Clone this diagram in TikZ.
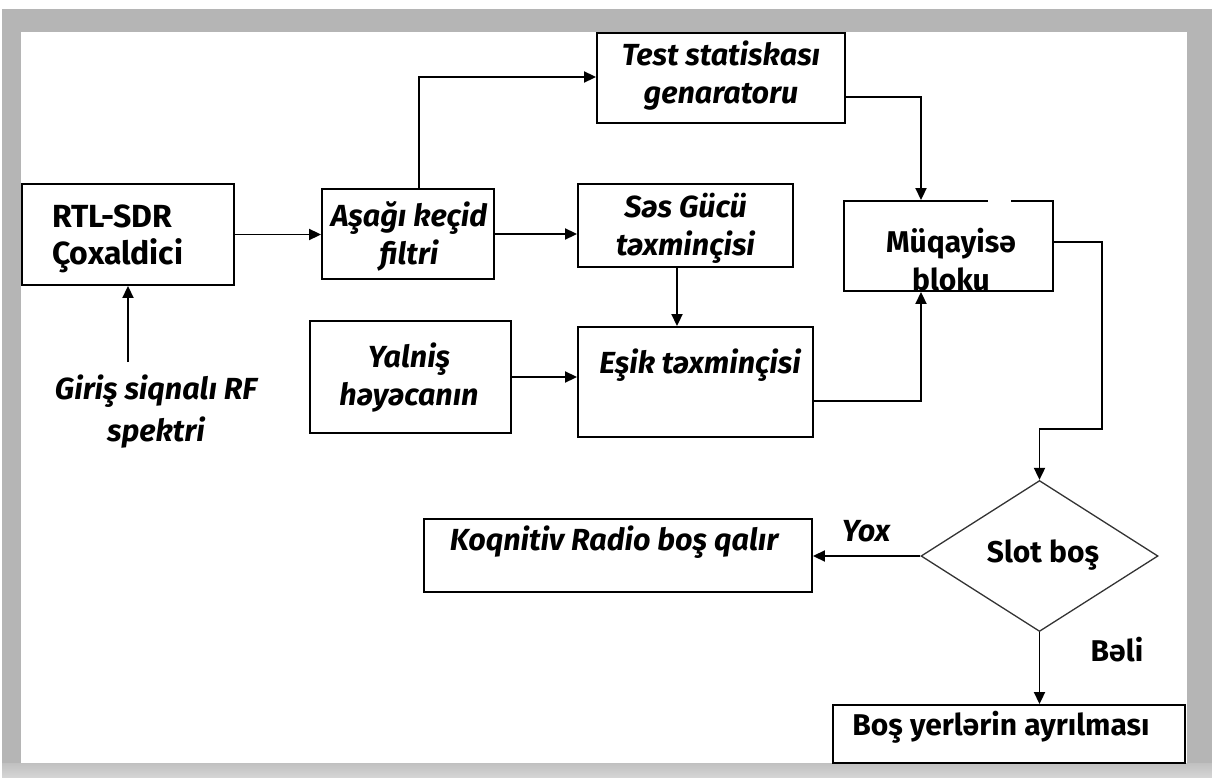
\documentclass[tikz,border=0pt]{standalone}
\usepackage{fontspec}
\setmainfont{Fira Sans}
\usetikzlibrary{arrows.meta,shapes.geometric,calc}
\definecolor{framegray}{HTML}{B5B5B5}
\begin{document}
\begin{tikzpicture}[x=1pt,y=-1pt,
  box/.style={draw=black, line width=1.9pt, rectangle, inner sep=0pt},
  txt/.style={font=\fontsize{30}{38}\selectfont\bfseries, align=center, inner sep=0pt},
  itxt/.style={font=\fontsize{30.5}{38}\selectfont\bfseries\itshape, align=center, inner sep=0pt},
  arr/.style={line width=1.9pt, -{Triangle[length=12pt,width=11pt]}}]
\useasboundingbox (0,0) rectangle (1212,778);
% frame
\fill[white] (0,0) rectangle (1212,778);
\fill[framegray] (2,9) rectangle (1212,778);
\shade[top color=framegray!85, bottom color=framegray!55] (2,763) rectangle (1212,778);
\fill[white] (21,32) rectangle (1187,763);

% boxes
\node[box, minimum width=212pt, minimum height=101pt] (rtl) at (128,234.5) {};
\node[txt, font=\fontsize{32}{37}\selectfont\bfseries, align=left, anchor=west] (rtlt) at (52,239) {RTL-SDR\\Çoxaldici};

\node[box, minimum width=172pt, minimum height=90pt] (lpf) at (408,234) {};
\node[itxt] (lpft) at (409,236) {Aşağı keçid\\filtri};

\node[box, minimum width=248pt, minimum height=90pt] (test) at (721,78) {};
\node[itxt] (testt) at (721,76) {Test statiskası\\genaratoru};

\node[box, minimum width=215pt, minimum height=83pt] (ses) at (685.5,225.5) {};
\node[itxt] (sest) at (685.5,228) {Səs Gücü\\təxminçisi};

\node[box, minimum width=235pt, minimum height=110pt] (esik) at (695.5,382) {};
\node[itxt] (esikt) at (700,365) {Eşik təxminçisi};

\node[box, minimum width=201pt, minimum height=112pt] (yal) at (410.5,377) {};
\node[itxt] (yalt) at (409,378) {Yalniş\\həyəcanın};

\node[box, minimum width=209pt, minimum height=90pt] (muq) at (948.5,246) {};
\node[txt] (muqt) at (951,260) {Müqayisə\\bloku};
\draw[white, line width=2.4pt] (988,201) -- (1011,201);

\node[box, minimum width=388pt, minimum height=73pt] (kog) at (618,555.5) {};
\node[itxt] (kogt) at (614,542) {Koqnitiv Radio boş qalır};

\node[box, minimum width=352pt, minimum height=58pt] (bos) at (1009,734) {};
\node[txt] (bost) at (1001,727) {Boş yerlərin ayrılması};

\node[draw=black!80, line width=1.3pt, diamond, minimum width=237pt, minimum height=151pt, inner sep=0pt] (slot) at (1039.5,556) {};
\node[txt] (slott) at (1043,555) {Slot boş};

% input text
\node[itxt, font=\fontsize{30.5}{42}\selectfont\bfseries\itshape] (giris) at (156,412) {Giriş siqnalı RF\\spektri};
\coordinate (inp) at (128,362);

% labels
\node[itxt] (yox) at (866,531) {Yox};
\node[txt] (beli) at (1117,650) {Bəli};

% connectors
\coordinate (c1) at (1102,429);
\draw[arr] (inp) -- (rtl.south);
\draw[arr] (rtl.east) -- (rtl.east -| lpf.west);
\draw[arr] ([xshift=11pt]lpf.north) |- ([yshift=1pt]test.west);
\draw[arr] ([yshift=-19pt]test.east) -| ([xshift=-27.5pt]muq.north);
\draw[arr] (lpf.east) -- (lpf.east -| ses.west);
\draw[arr] ([xshift=-8.5pt]ses.south) -- ([xshift=-8.5pt]ses.south |- esik.north);
\draw[arr] (yal.east) -- (yal.east -| esik.west);
\draw[arr] ([yshift=-19pt]esik.east) -| ([xshift=-27.5pt]muq.south);
\draw[arr] ([yshift=4pt]muq.east) -| (c1) -| (slot.north);
\draw[arr] (slot.west) -- (slot.west -| kog.east);
\draw[arr] (slot.south) -- (slot.south |- bos.north);
\end{tikzpicture}
\end{document}
